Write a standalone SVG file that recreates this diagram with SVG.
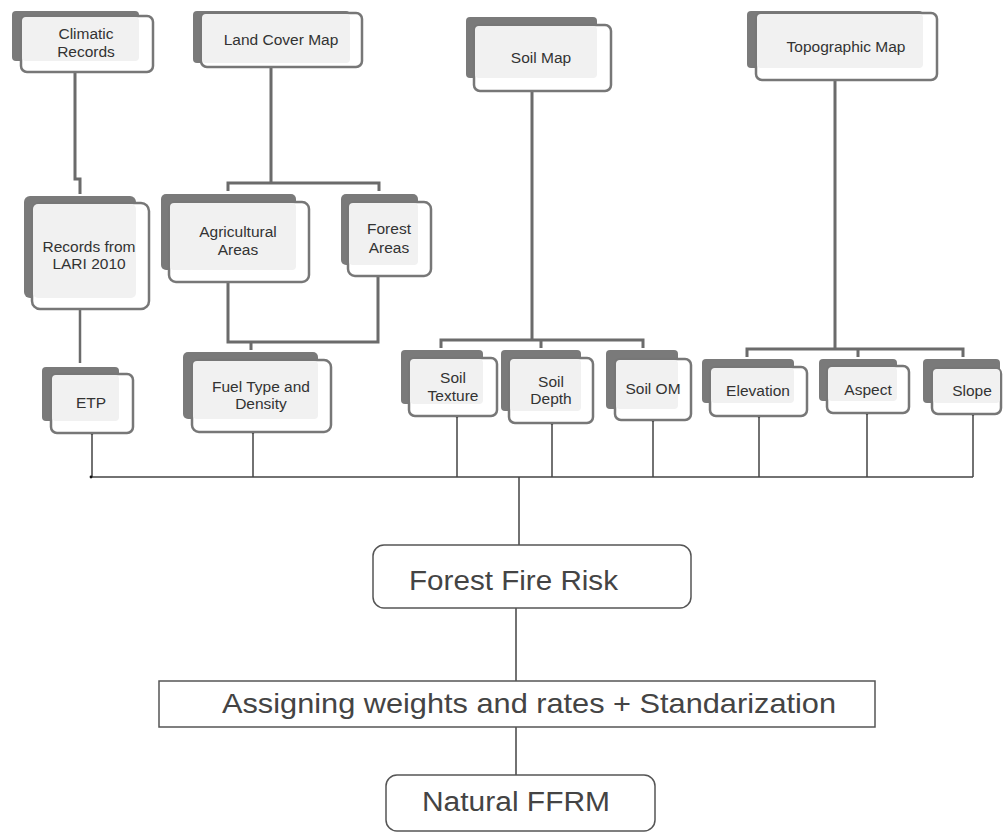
<svg xmlns="http://www.w3.org/2000/svg" width="1003" height="833" viewBox="0 0 1003 833">
<style>
.sh{fill:#7a7a7a}
.fr{fill:#fff;stroke:#777;stroke-width:2.5}
.in{fill:#f1f1f1}
.t{font-family:"Liberation Sans",Arial,sans-serif;font-size:15.5px;fill:#333;text-anchor:middle}
.big{font-family:"Liberation Sans",Arial,sans-serif;fill:#444}
.bx{fill:#fff;stroke:#555;stroke-width:1.5}
.c1{fill:none;stroke:#6b6b6b;stroke-width:3}
.c2{fill:none;stroke:#444;stroke-width:1.5}
.dot{fill:#111}
</style>
<rect width="1003" height="833" fill="#fff"/>
<g id="connectors">
<path class="c1" d="M75 72V179H80V194"/>
<path class="c1" d="M80 309V363" style="stroke-width:2.5"/>
<path class="c1" d="M271 67V183M228 191V183H379V191"/>
<path class="c1" d="M228 282V342H378V276M251 342V350"/>
<path class="c1" d="M532 91V340M441 348V340H643V348M541 340V348"/>
<path class="c1" d="M835 80V349M747 357V349H963V357M858 349V357"/>
<path class="c2" d="M91 477H973M92 433V477M253 432V477M457 416V477M552 423V477M653 420V477M759 416V477M867 413V477M973 414V477"/>
<g class="dot"><circle cx="92" cy="433" r="1.6"/><circle cx="253" cy="432" r="1.6"/><circle cx="457" cy="416" r="1.6"/><circle cx="552" cy="423" r="1.6"/><circle cx="653" cy="420" r="1.6"/><circle cx="759" cy="416" r="1.6"/><circle cx="867" cy="413" r="1.6"/><circle cx="973" cy="414" r="1.6"/><circle cx="91" cy="477" r="1.4"/></g>
<path class="c2" d="M519 477V545M516 608V681M516 727V775"/>
</g>
<g id="climatic">
<rect class="sh" x="12" y="11" width="127" height="50" rx="4"/>
<rect class="fr" x="21" y="16" width="132" height="56" rx="6"/>
<rect class="in" x="22" y="17" width="117" height="44" rx="4"/>
<text class="t" x="86" y="39">Climatic</text>
<text class="t" x="86" y="57">Records</text>
</g>
<g id="landcover">
<rect class="sh" x="193" y="11" width="157" height="52" rx="4"/>
<rect class="fr" x="201" y="13" width="161" height="54" rx="6"/>
<rect class="in" x="202" y="14" width="148" height="49" rx="4"/>
<text class="t" x="281" y="45">Land Cover Map</text>
</g>
<g id="soilmap">
<rect class="sh" x="466" y="17" width="131" height="61" rx="4"/>
<rect class="fr" x="474" y="25" width="137" height="66" rx="6"/>
<rect class="in" x="475" y="26" width="122" height="52" rx="4"/>
<text class="t" x="541" y="63">Soil Map</text>
</g>
<g id="topographic">
<rect class="sh" x="747" y="11" width="176" height="57" rx="4"/>
<rect class="fr" x="756" y="13" width="181" height="67" rx="6"/>
<rect class="in" x="757" y="14" width="166" height="54" rx="4"/>
<text class="t" x="846" y="52">Topographic Map</text>
</g>
<g id="records">
<rect class="sh" x="24" y="196" width="112" height="102" rx="6"/>
<rect class="fr" x="32" y="203" width="117" height="106" rx="8"/>
<rect class="in" x="33" y="204" width="103" height="94" rx="5"/>
<text class="t" x="89" y="252">Records from</text>
<text class="t" x="89" y="269">LARI 2010</text>
</g>
<g id="agricultural">
<rect class="sh" x="161" y="194" width="135" height="76" rx="5"/>
<rect class="fr" x="169" y="202" width="140" height="80" rx="7"/>
<rect class="in" x="170" y="203" width="126" height="67" rx="4"/>
<text class="t" x="238" y="237">Agricultural</text>
<text class="t" x="238" y="255">Areas</text>
</g>
<g id="forestareas">
<rect class="sh" x="341" y="194" width="77" height="71" rx="5"/>
<rect class="fr" x="348" y="202" width="83" height="74" rx="7"/>
<rect class="in" x="349" y="203" width="69" height="62" rx="4"/>
<text class="t" x="389" y="234">Forest</text>
<text class="t" x="389" y="253">Areas</text>
</g>
<g id="etp">
<rect class="sh" x="42" y="367" width="77" height="54" rx="4"/>
<rect class="fr" x="51" y="374" width="82" height="59" rx="6"/>
<rect class="in" x="52" y="375" width="67" height="46" rx="4"/>
<text class="t" x="91" y="408">ETP</text>
</g>
<g id="fuel">
<rect class="sh" x="183" y="352" width="135" height="67" rx="5"/>
<rect class="fr" x="192" y="360" width="139" height="72" rx="7"/>
<rect class="in" x="193" y="361" width="125" height="58" rx="4"/>
<text class="t" x="261" y="392">Fuel Type and</text>
<text class="t" x="261" y="409">Density</text>
</g>
<g id="soiltexture">
<rect class="sh" x="401" y="350" width="82" height="54" rx="4"/>
<rect class="fr" x="409" y="358" width="88" height="58" rx="6"/>
<rect class="in" x="410" y="359" width="73" height="45" rx="4"/>
<text class="t" x="453" y="383">Soil</text>
<text class="t" x="453" y="401">Texture</text>
</g>
<g id="soildepth">
<rect class="sh" x="501" y="350" width="80" height="61" rx="4"/>
<rect class="fr" x="509" y="358" width="84" height="65" rx="6"/>
<rect class="in" x="510" y="359" width="71" height="52" rx="4"/>
<text class="t" x="551" y="387">Soil</text>
<text class="t" x="551" y="404">Depth</text>
</g>
<g id="soilom">
<rect class="sh" x="606" y="350" width="72" height="59" rx="4"/>
<rect class="fr" x="615" y="359" width="76" height="61" rx="6"/>
<rect class="in" x="616" y="360" width="62" height="49" rx="4"/>
<text class="t" x="653" y="394">Soil OM</text>
</g>
<g id="elevation">
<rect class="sh" x="702" y="359" width="92" height="44" rx="4"/>
<rect class="fr" x="710" y="367" width="97" height="49" rx="6"/>
<rect class="in" x="711" y="368" width="83" height="35" rx="4"/>
<text class="t" x="758" y="396">Elevation</text>
</g>
<g id="aspect">
<rect class="sh" x="819" y="359" width="78" height="42" rx="4"/>
<rect class="fr" x="827" y="366" width="82" height="47" rx="6"/>
<rect class="in" x="828" y="367" width="69" height="34" rx="4"/>
<text class="t" x="868" y="395">Aspect</text>
</g>
<g id="slope">
<rect class="sh" x="923" y="359" width="77" height="44" rx="4"/>
<rect class="fr" x="932" y="368" width="69" height="46" rx="6"/>
<rect class="in" x="933" y="369" width="67" height="34" rx="4"/>
<text class="t" x="972" y="396">Slope</text>
</g>
<g id="forestfirerisk">
<rect class="bx" x="373" y="545" width="318" height="63" rx="11"/>
<text class="big" x="409" y="590" font-size="27" textLength="209" lengthAdjust="spacingAndGlyphs">Forest Fire Risk</text>
</g>
<g id="assigning">
<rect class="bx" x="159" y="681" width="716" height="46"/>
<text class="big" x="222" y="713" font-size="28" textLength="614" lengthAdjust="spacingAndGlyphs">Assigning weights and rates + Standarization</text>
</g>
<g id="naturalffrm">
<rect class="bx" x="386" y="775" width="269" height="56" rx="11"/>
<text class="big" x="422" y="811" font-size="27" textLength="188" lengthAdjust="spacingAndGlyphs">Natural FFRM</text>
</g>
</svg>
